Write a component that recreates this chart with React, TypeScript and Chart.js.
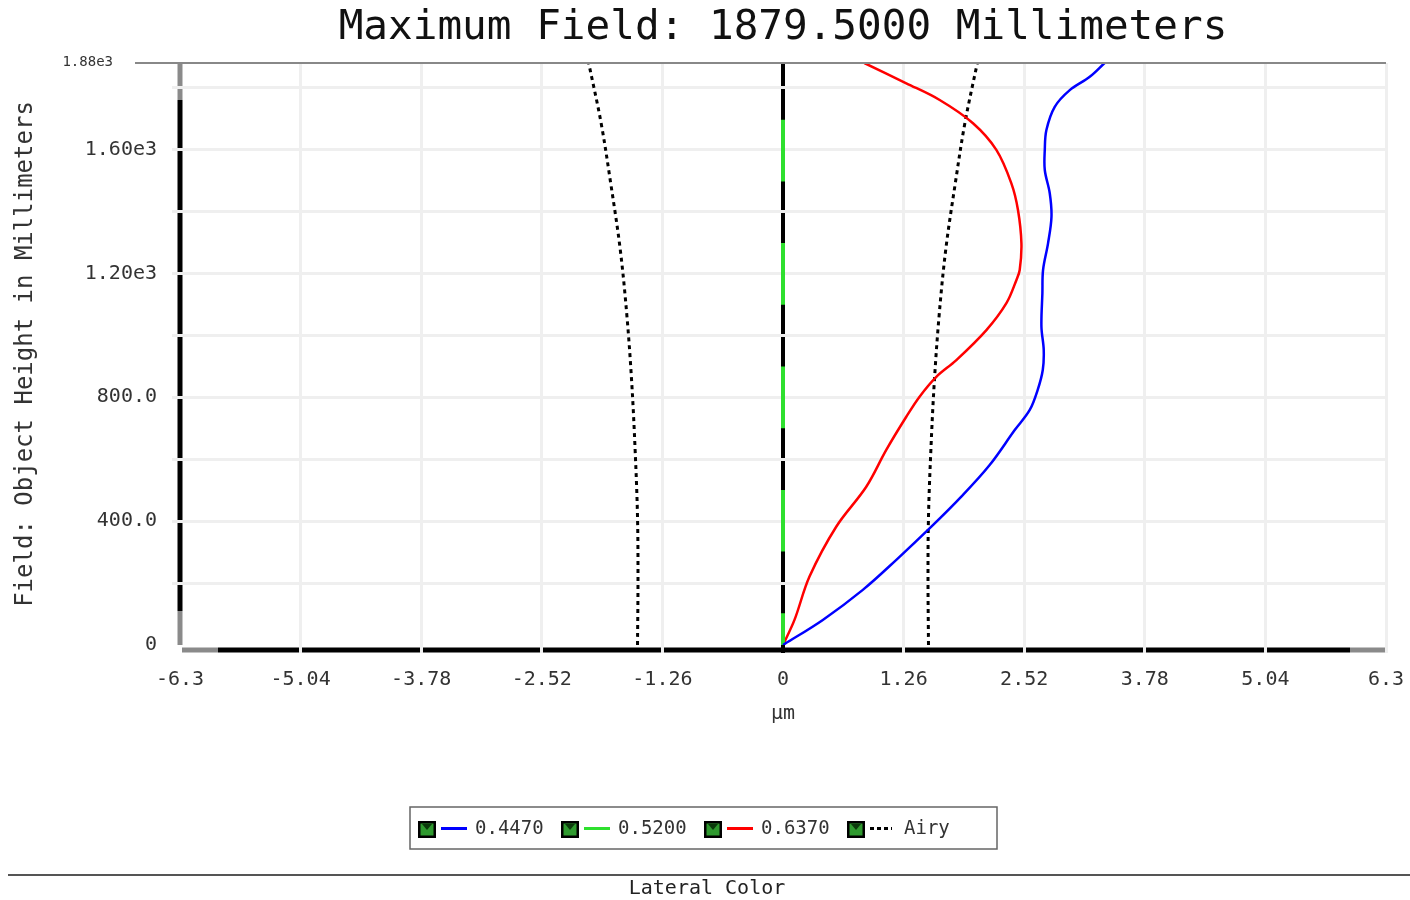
import React, { useEffect, useRef } from 'react';
import { Chart, registerables } from 'chart.js';

Chart.register(...registerables);

const MONO = '"DejaVu Sans Mono", "Liberation Mono", monospace';

// ---- text ----
const chartTitle = 'Maximum Field: 1879.5000 Millimeters';
const yAxisTitle = 'Field: Object Height in Millimeters';
const xAxisTitle = 'µm';
const footerText = 'Lateral Color';
const yTopLabel = '1.88e3';

// ---- axes ----
const xMin = -6.3;
const xMax = 6.3;
const yMin = 0;
const yMax = 1879.5;
const xTickValues = [-6.3, -5.04, -3.78, -2.52, -1.26, 0, 1.26, 2.52, 3.78, 5.04, 6.3];
const xTickLabels = ['-6.3', '-5.04', '-3.78', '-2.52', '-1.26', '0', '1.26', '2.52', '3.78', '5.04', '6.3'];
const yGridValues = [0, 200, 400, 600, 800, 1000, 1200, 1400, 1600, 1800];
const yTickValues = [0, 400, 800, 1200, 1600];
const yTickLabels = ['0', '400.0', '800.0', '1.20e3', '1.60e3'];

// ---- series (x = lateral colour in µm, y = field in mm) ----
const fieldBlue = [0, 81, 178, 275, 382, 479, 581, 694, 759, 824, 888, 953, 1028, 1136, 1211, 1297, 1383, 1459, 1534, 1599, 1663, 1738, 1792, 1835, 1879.5];
const lateralBlue = [0, 0.416, 0.834, 1.184, 1.55, 1.863, 2.159, 2.421, 2.578, 2.661, 2.714, 2.724, 2.7, 2.71, 2.717, 2.769, 2.805, 2.787, 2.735, 2.735, 2.752, 2.839, 2.996, 3.205, 3.36];

const fieldGreen = [0, 1879.5];
const lateralGreen = [0, 0];

const fieldRed = [0, 81, 221, 382, 511, 630, 737, 802, 866, 920, 1017, 1104, 1179, 1211, 1297, 1405, 1491, 1599, 1685, 1760, 1814, 1879.5];
const lateralRed = [0, 0.12, 0.277, 0.556, 0.87, 1.079, 1.288, 1.427, 1.602, 1.811, 2.125, 2.334, 2.439, 2.473, 2.491, 2.455, 2.386, 2.229, 1.985, 1.637, 1.288, 0.85];

const fieldAiry = [0, 210, 414, 630, 845, 1060, 1276, 1491, 1685, 1879.5];
const airyRadius = [1.52, 1.515, 1.52, 1.545, 1.58, 1.63, 1.7, 1.8, 1.9, 2.03];

const legendLabels = ['0.4470', '0.5200', '0.6370', 'Airy'];
const legendColors = ['#0000ff', '#2ee02e', '#ff0000', '#000000'];

const toPts = (xs: number[], ys: number[]) => xs.map((x, i) => ({ x, y: ys[i] }));

function drawCheckbox(ctx: CanvasRenderingContext2D, x: number, y: number) {
  ctx.save();
  ctx.fillStyle = '#000';
  ctx.fillRect(x, y, 18, 17);
  ctx.fillStyle = '#2f9a2f';
  ctx.fillRect(x + 2.5, y + 2.5, 13, 12);
  ctx.fillStyle = '#0b3a0b';
  ctx.beginPath();
  ctx.moveTo(x + 4, y + 3);
  ctx.lineTo(x + 14, y + 3);
  ctx.lineTo(x + 9, y + 9);
  ctx.closePath();
  ctx.fill();
  ctx.restore();
}

const decorPlugin = {
  id: 'decor',
  beforeDraw(chart: any) {
    const { ctx, chartArea: a } = chart;
    ctx.save();
    ctx.lineWidth = 5;
    ctx.lineCap = 'butt';
    const seg = (x1: number, y1: number, x2: number, y2: number, c: string) => {
      ctx.strokeStyle = c;
      ctx.beginPath();
      ctx.moveTo(x1, y1);
      ctx.lineTo(x2, y2);
      ctx.stroke();
    };
    // left axis
    seg(a.left, a.top, a.left, a.top + 37, '#8a8a8a');
    seg(a.left, a.top + 37, a.left, a.bottom - 34, '#000');
    seg(a.left, a.bottom - 34, a.left, a.bottom, '#8a8a8a');
    // bottom axis
    const by = a.bottom + 5;
    seg(a.left + 2, by, a.left + 38, by, '#8a8a8a');
    seg(a.left + 38, by, a.right - 36, by, '#000');
    seg(a.right - 36, by, a.right, by, '#8a8a8a');
    ctx.restore();
  },
  afterDraw(chart: any) {
    const { ctx, chartArea: a } = chart;
    ctx.save();
    // top border and top tick
    ctx.strokeStyle = '#888';
    ctx.lineWidth = 2;
    ctx.beginPath();
    ctx.moveTo(a.left - 45, a.top);
    ctx.lineTo(a.right, a.top);
    ctx.stroke();
    ctx.fillStyle = '#333';
    ctx.font = `14px ${MONO}`;
    ctx.textAlign = 'right';
    ctx.textBaseline = 'middle';
    ctx.fillText(yTopLabel, a.left - 67, a.top - 1);

    // legend box
    ctx.strokeStyle = '#666';
    ctx.lineWidth = 1.5;
    ctx.strokeRect(410, 807, 587, 42);
    ctx.font = `19px ${MONO}`;
    ctx.textAlign = 'left';
    ctx.textBaseline = 'alphabetic';
    legendLabels.forEach((lab, i) => {
      const x0 = 418 + i * 143;
      drawCheckbox(ctx, x0, 821);
      ctx.strokeStyle = legendColors[i];
      ctx.lineWidth = 3;
      if (i === 3) ctx.setLineDash([4, 3]);
      else ctx.setLineDash([]);
      ctx.beginPath();
      ctx.moveTo(x0 + 23, 828.5);
      ctx.lineTo(i === 3 ? x0 + 45 : x0 + 49, 828.5);
      ctx.stroke();
      ctx.setLineDash([]);
      ctx.fillStyle = '#333';
      ctx.fillText(lab, x0 + 57, 834);
    });

    // footer
    ctx.strokeStyle = '#555';
    ctx.lineWidth = 2;
    ctx.beginPath();
    ctx.moveTo(8, 875);
    ctx.lineTo(1410, 875);
    ctx.stroke();
    ctx.fillStyle = '#222';
    ctx.font = `20px ${MONO}`;
    ctx.textAlign = 'center';
    ctx.textBaseline = 'middle';
    ctx.fillText(footerText, 707, 889);
    ctx.restore();
  },
};

export default function App() {
  const ref = useRef<HTMLCanvasElement | null>(null);

  useEffect(() => {
    if (!ref.current) return;
    const chart = new Chart(ref.current, {
      type: 'scatter',
      data: {
        datasets: [
          {
            label: legendLabels[0],
            data: toPts(lateralBlue, fieldBlue),
            showLine: true,
            borderColor: legendColors[0],
            borderWidth: 2.5,
            pointRadius: 0,
            tension: 0.35,
          },
          {
            label: legendLabels[1],
            data: toPts(lateralGreen, fieldGreen),
            showLine: true,
            borderColor: legendColors[1],
            borderWidth: 4,
            borderDash: [61.7, 61.7],
            borderDashOffset: 30,
            pointRadius: 0,
          },
          {
            label: legendLabels[2],
            data: toPts(lateralRed, fieldRed),
            showLine: true,
            borderColor: legendColors[2],
            borderWidth: 2.5,
            pointRadius: 0,
            tension: 0.35,
          },
          {
            label: legendLabels[3],
            data: toPts(airyRadius, fieldAiry),
            showLine: true,
            borderColor: '#000',
            borderWidth: 3,
            borderDash: [4, 4],
            pointRadius: 0,
            tension: 0.35,
          },
          {
            label: legendLabels[3] + ' (-)',
            data: toPts(airyRadius.map((r) => -r), fieldAiry),
            showLine: true,
            borderColor: '#000',
            borderWidth: 3,
            borderDash: [4, 4],
            pointRadius: 0,
            tension: 0.35,
          },
        ],
      },
      options: {
        animation: false,
        responsive: false,
        devicePixelRatio: 1,
        layout: { padding: { left: 0, right: 24, top: 0, bottom: 174 } },
        plugins: {
          legend: { display: false },
          tooltip: { enabled: false },
          title: {
            display: true,
            text: chartTitle,
            fullSize: false,
            color: '#111',
            font: { family: MONO, size: 41, weight: 'normal' },
            padding: { top: 3.5, bottom: 10.3 },
          },
        },
        scales: {
          x: {
            type: 'linear',
            min: xMin,
            max: xMax,
            afterBuildTicks: (s: any) => {
              s.ticks = xTickValues.map((v) => ({ value: v }));
            },
            afterFit: (s: any) => {
              s.height = 81;
              s.paddingLeft = 0;
              s.paddingRight = 0;
            },
            ticks: {
              autoSkip: false,
              maxRotation: 0,
              padding: 15,
              color: '#333',
              font: { family: MONO, size: 20 },
              callback: (_v: any, i: number) => xTickLabels[i],
            },
            grid: {
              color: (c: any) => {
                const v = c.tick ? c.tick.value : null;
                if (v === xMin) return 'rgba(0,0,0,0)';
                if (v === 0) return '#000';
                return '#efefef';
              },
              lineWidth: (c: any) => (c.tick && c.tick.value === 0 ? 4 : 3),
              drawTicks: true,
              tickLength: 8,
            },
            border: { display: false },
            title: {
              display: true,
              text: xAxisTitle,
              color: '#333',
              font: { family: MONO, size: 20 },
              padding: { top: 0, bottom: 0 },
            },
          },
          y: {
            type: 'linear',
            min: yMin,
            max: yMax,
            afterBuildTicks: (s: any) => {
              s.ticks = yGridValues.map((v) => ({ value: v }));
            },
            afterFit: (s: any) => {
              s.width = 180;
              s.paddingTop = 0;
              s.paddingBottom = 0;
            },
            ticks: {
              autoSkip: false,
              padding: 15,
              color: '#333',
              font: { family: MONO, size: 20 },
              callback: (v: any) => {
                const i = yTickValues.indexOf(Number(v));
                return i >= 0 ? yTickLabels[i] : '';
              },
            },
            grid: {
              color: (c: any) => (c.tick && c.tick.value === 0 ? 'rgba(0,0,0,0)' : '#efefef'),
              lineWidth: 3,
              drawTicks: true,
              tickLength: 8,
            },
            border: { display: false },
            title: {
              display: true,
              text: yAxisTitle,
              color: '#333',
              font: { family: MONO, size: 24 },
              padding: { top: 11, bottom: 0 },
            },
          },
        },
      },
      plugins: [decorPlugin],
    } as any);
    return () => chart.destroy();
  }, []);

  return (
    <div style={{ position: 'absolute', left: 0, top: 0, width: 1410, height: 900, background: '#fff' }}>
      <canvas ref={ref} width={1410} height={900} style={{ display: 'block', width: 1410, height: 900 }} />
    </div>
  );
}
